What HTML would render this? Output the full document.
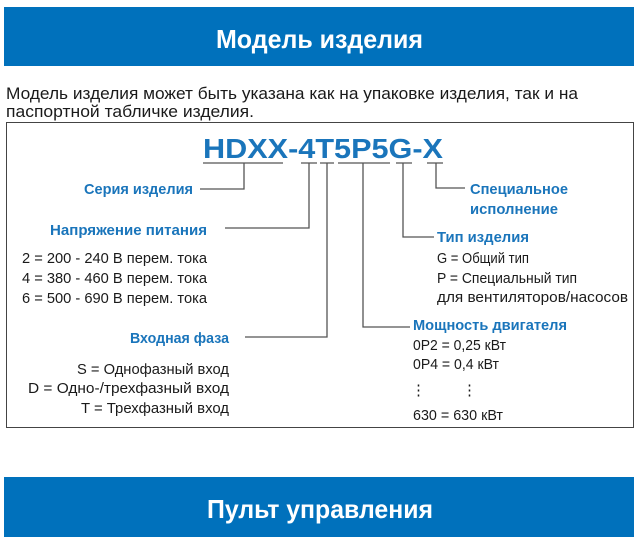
<!DOCTYPE html>
<html><head><meta charset="utf-8"><style>
html,body{margin:0;padding:0;background:#fff;width:638px;height:545px;overflow:hidden}
svg{display:block}
text{font-family:"Liberation Sans",sans-serif}
.b{fill:#1a75bb;font-weight:bold;font-size:15px}
.t{fill:#1a1a1a;font-size:15px}
.w{fill:#fff;font-weight:bold;font-size:26px}
</style></head><body>
<svg width="638" height="545" viewBox="0 0 638 545" xmlns="http://www.w3.org/2000/svg">
<rect x="4" y="7" width="630" height="59" fill="#0071bc"/>
<text class="w" x="216" y="48" textLength="207" lengthAdjust="spacingAndGlyphs">Модель изделия</text>
<text class="t" style="font-size:17px" x="6" y="99" textLength="572" lengthAdjust="spacingAndGlyphs">Модель изделия может быть указана как на упаковке изделия, так и на</text>
<text class="t" style="font-size:17px" x="6" y="117" textLength="248" lengthAdjust="spacingAndGlyphs">паспортной табличке изделия.</text>
<rect x="6.5" y="122.5" width="627" height="305" fill="none" stroke="#444" stroke-width="1"/>
<text x="203" y="158" style="font-size:28px;font-weight:bold;fill:#1a75bb" textLength="240" lengthAdjust="spacingAndGlyphs">HDXX-4T5P5G-X</text>
<g stroke="#555" stroke-width="1.3" fill="none">
<path d="M203 163H283M301 163H317M320 163H334M338 163H390M396 163H412M427 163H443"/>
<path d="M244 163V189H200"/>
<path d="M309 163V228H225"/>
<path d="M327 163V337H245"/>
<path d="M363 163V327H410"/>
<path d="M403 163V237H434"/>
<path d="M436 163V188H465"/>
</g>
<text class="b" x="84" y="194" textLength="109" lengthAdjust="spacingAndGlyphs">Серия изделия</text>
<text class="b" x="50" y="235" textLength="157" lengthAdjust="spacingAndGlyphs">Напряжение питания</text>
<text class="t" x="22" y="263" textLength="185" lengthAdjust="spacingAndGlyphs">2 = 200 - 240 В перем. тока</text>
<text class="t" x="22" y="283" textLength="185" lengthAdjust="spacingAndGlyphs">4 = 380 - 460 В перем. тока</text>
<text class="t" x="22" y="303" textLength="185" lengthAdjust="spacingAndGlyphs">6 = 500 - 690 В перем. тока</text>
<text class="b" x="130" y="343" textLength="99" lengthAdjust="spacingAndGlyphs">Входная фаза</text>
<text class="t" x="77" y="374" textLength="152" lengthAdjust="spacingAndGlyphs">S = Однофазный вход</text>
<text class="t" x="28" y="393" textLength="201" lengthAdjust="spacingAndGlyphs">D = Одно-/трехфазный вход</text>
<text class="t" x="81" y="413" textLength="148" lengthAdjust="spacingAndGlyphs">T = Трехфазный вход</text>
<text class="b" x="470" y="194" textLength="98" lengthAdjust="spacingAndGlyphs">Специальное</text>
<text class="b" x="470" y="214" textLength="88" lengthAdjust="spacingAndGlyphs">исполнение</text>
<text class="b" x="437" y="242" textLength="92" lengthAdjust="spacingAndGlyphs">Тип изделия</text>
<text class="t" x="437" y="263" textLength="92" lengthAdjust="spacingAndGlyphs">G = Общий тип</text>
<text class="t" x="437" y="283" textLength="140" lengthAdjust="spacingAndGlyphs">P = Специальный тип</text>
<text class="t" x="437" y="302" textLength="191" lengthAdjust="spacingAndGlyphs">для вентиляторов/насосов</text>
<text class="b" x="413" y="330" textLength="154" lengthAdjust="spacingAndGlyphs">Мощность двигателя</text>
<text class="t" x="413" y="350" textLength="93" lengthAdjust="spacingAndGlyphs">0P2 = 0,25 кВт</text>
<text class="t" x="413" y="369" textLength="86" lengthAdjust="spacingAndGlyphs">0P4 = 0,4 кВт</text>
<text class="t" x="411" y="395">⋮</text>
<text class="t" x="462" y="395">⋮</text>
<text class="t" x="413" y="420" textLength="90" lengthAdjust="spacingAndGlyphs">630 = 630 кВт</text>
<rect x="4" y="477" width="630" height="60" fill="#0071bc"/>
<text class="w" x="207" y="518" textLength="226" lengthAdjust="spacingAndGlyphs">Пульт управления</text>
</svg>
</body></html>
